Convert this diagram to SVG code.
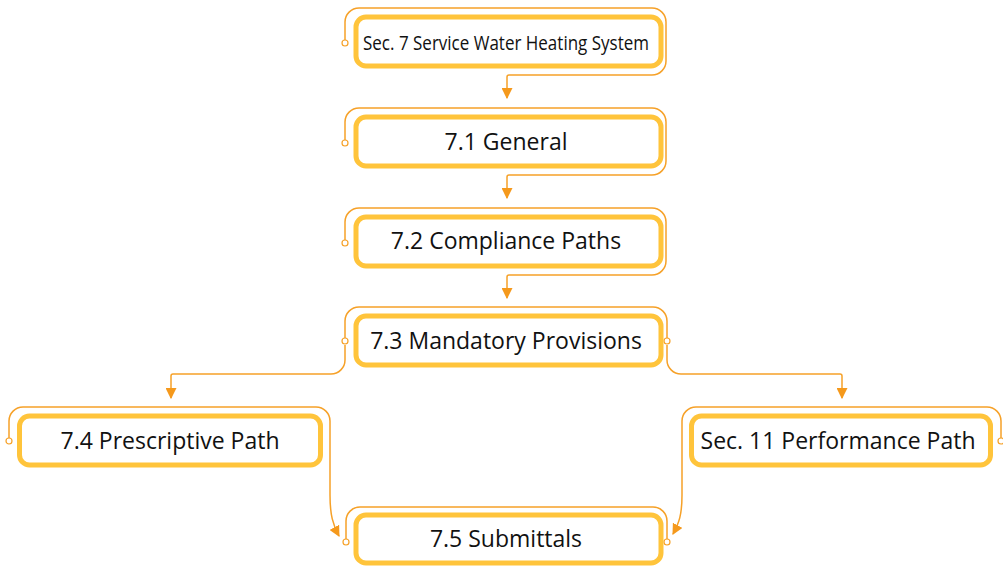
<svg xmlns="http://www.w3.org/2000/svg" width="1003" height="567" viewBox="0 0 1003 567">
<defs>
<style>
.box{fill:#fff;stroke:#FFC43B;stroke-width:5}
.lbl{font-family:"Open Sans","Liberation Sans",sans-serif;font-size:23px;fill:#111;text-anchor:middle}
.ln{fill:none;stroke:#F6A128;stroke-width:1.5}
.arr{fill:none;stroke:#F6A128;stroke-width:1.5;marker-end:url(#ah)}
.dot{fill:#fff;stroke:#F6A128;stroke-width:1.2}
</style>
<marker id="ah" viewBox="0 0 10 10" refX="9" refY="5" markerWidth="11" markerHeight="11" markerUnits="userSpaceOnUse" orient="auto">
<path d="M0,0 L10,5 L0,10 z" fill="#F5991C"/>
</marker>
</defs>
<rect width="1003" height="567" fill="#fff"/>
<g id="connectors">
<path class="arr" d="M345,40 V22 A14,14 0 0 1 359,8 H652 A14,14 0 0 1 666,22 V61 A14,14 0 0 1 652,75 H509 A2,2 0 0 0 507,77 V98"/>
<path class="arr" d="M345,140 V122 A14,14 0 0 1 359,108 H652 A14,14 0 0 1 666,122 V161 A14,14 0 0 1 652,175 H509 A2,2 0 0 0 507,177 V198"/>
<path class="arr" d="M345,240 V222 A14,14 0 0 1 359,208 H652 A14,14 0 0 1 666,222 V261 A14,14 0 0 1 652,275 H509 A2,2 0 0 0 507,277 V298"/>
<path class="ln" d="M345,338 V321 A14,14 0 0 1 359,307 H653 A14,14 0 0 1 667,321 V338"/>
<path class="arr" d="M345,345 V360 A14,14 0 0 1 331,374 H173 A2,2 0 0 0 171,376 V398"/>
<path class="arr" d="M667,345 V360 A14,14 0 0 0 681,374 H840 A2,2 0 0 1 842,376 V398"/>
<path class="arr" d="M9,438 V421 A14,14 0 0 1 23,407 H316 A14,14 0 0 1 330,421 V495 C330,515 333,525 339,536"/>
<path class="arr" d="M1001,438 V421 A14,14 0 0 0 987,407 H696 A14,14 0 0 0 682,421 V495 C682,515 679,523 673,534"/>
<path class="ln" d="M346,539 V521 A14,14 0 0 1 360,507 H653 A14,14 0 0 1 667,521 V539"/>
<circle class="dot" cx="345" cy="43" r="3"/>
<circle class="dot" cx="345" cy="143" r="3"/>
<circle class="dot" cx="345" cy="243" r="3"/>
<circle class="dot" cx="345" cy="341" r="3"/>
<circle class="dot" cx="667" cy="341" r="3"/>
<circle class="dot" cx="9" cy="441" r="3"/>
<circle class="dot" cx="1001" cy="441" r="3"/>
<circle class="dot" cx="346" cy="542" r="3"/>
<circle class="dot" cx="667" cy="542" r="3"/>
</g>
<g id="n1">
<rect class="box" x="356" y="17" width="305" height="49" rx="10"/>
<text class="lbl" x="506" y="50" style="font-size:20px" textLength="286" lengthAdjust="spacingAndGlyphs">Sec. 7 Service Water Heating System</text>
</g>
<g id="n2">
<rect class="box" x="356" y="117" width="305" height="49" rx="10"/>
<text class="lbl" x="506" y="150">7.1 General</text>
</g>
<g id="n3">
<rect class="box" x="356" y="217" width="305" height="49" rx="10"/>
<text class="lbl" x="506" y="249">7.2 Compliance Paths</text>
</g>
<g id="n4">
<rect class="box" x="356" y="316" width="305" height="49" rx="10"/>
<text class="lbl" x="506" y="349">7.3 Mandatory Provisions</text>
</g>
<g id="n5">
<rect class="box" x="19.5" y="416" width="301" height="49" rx="10"/>
<text class="lbl" x="170" y="449">7.4 Prescriptive Path</text>
</g>
<g id="n6">
<rect class="box" x="691.5" y="416" width="299" height="49" rx="10"/>
<text class="lbl" x="838" y="449">Sec. 11 Performance Path</text>
</g>
<g id="n7">
<rect class="box" x="356" y="515" width="305" height="48" rx="10"/>
<text class="lbl" x="506" y="547">7.5 Submittals</text>
</g>
</svg>
